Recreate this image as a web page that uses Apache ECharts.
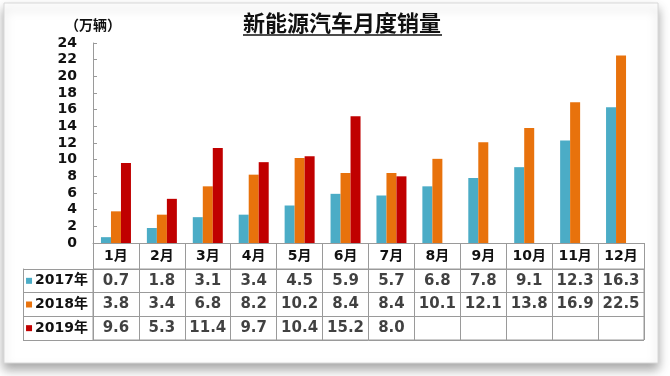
<!DOCTYPE html>
<html><head><meta charset="utf-8">
<script src="https://cdn.jsdelivr.net/npm/echarts@6/dist/echarts.min.js"></script>
<style>html,body{margin:0;padding:0;background:#fff}#c{width:670px;height:376px}</style>
</head><body><div id="c"></div>
<script>
var months = ['1月','2月','3月','4月','5月','6月','7月','8月','9月','10月','11月','12月'];
var years = ['2017年','2018年','2019年'];
var s2017 = [0.7,1.8,3.1,3.4,4.5,5.9,5.7,6.8,7.8,9.1,12.3,16.3];
var s2018 = [3.8,3.4,6.8,8.2,10.2,8.4,8.4,10.1,12.1,13.8,16.9,22.5];
var s2019 = [9.6,5.3,11.4,9.7,10.4,15.2,8.0,null,null,null,null,null];
var yTicks = {min:0, max:24, interval:2};
var colors = ['#4bacc6','#e8720c','#c00000'];
var title = '新能源汽车月度销量';
var unit = '（万辆）';

var allSeries = [s2017, s2018, s2019];
var cells = [];
allSeries.forEach(function(arr, r){
  arr.forEach(function(v, i){ if (v !== null) cells.push([i, r, v]); });
});
var F = 'DejaVu Sans, "Noto Sans CJK SC", sans-serif';
var grid = '#9a9a9a';

var chart = echarts.init(document.getElementById('c'));
chart.setOption({
  backgroundColor: '#fff',
  animation: false,
  graphic: [
    {type:'rect', z:-10, shape:{x:4,y:3,width:654,height:360},
     style:{fill:'#fff', stroke:'#d8d8d8', lineWidth:1, shadowBlur:10, shadowOffsetY:6, shadowColor:'rgba(0,0,0,0.35)'}},
    {type:'text', left:243, top:12, style:{text:title, fill:'#111', font:'bold 22px "Noto Sans CJK SC", sans-serif'}},
    {type:'line', shape:{x1:243,y1:35,x2:442,y2:35}, style:{stroke:'#111', lineWidth:1.5}}
  ],
  grid: [
    {left:93, top:43, width:551, height:200},
    {left:93, top:269, width:551, height:71, show:true, borderColor:grid, borderWidth:1, backgroundColor:'transparent'}
  ],
  xAxis: [
    {type:'category', gridIndex:0, data:months,
     axisLine:{lineStyle:{color:grid}},
     axisTick:{show:true, length:26, lineStyle:{color:grid}},
     axisLabel:{color:'#111', fontWeight:'bold', fontSize:14, fontFamily:F, margin:6}},
    {type:'category', gridIndex:1, data:months,
     axisLine:{show:false}, axisTick:{show:false}, axisLabel:{show:false},
     splitLine:{show:true, lineStyle:{color:grid}}}
  ],
  yAxis: [
    {type:'value', gridIndex:0, min:yTicks.min, max:yTicks.max, interval:yTicks.interval,
     name:unit, nameLocation:'end', nameGap:11,
     nameTextStyle:{color:'#111', fontWeight:'bold', fontSize:14, align:'center', fontFamily:'"Noto Sans CJK SC", sans-serif', padding:[0,0,0,0]},
     axisLine:{show:true, lineStyle:{color:grid}},
     axisTick:{show:true, inside:true, length:4, lineStyle:{color:grid}},
     splitLine:{show:false},
     axisLabel:{color:'#111', fontWeight:'bold', fontSize:14, fontFamily:F, margin:16}},
    {type:'category', gridIndex:1, data:years, inverse:true,
     axisLine:{show:false},
     axisTick:{show:true, length:70, lineStyle:{color:grid}},
     splitLine:{show:true, lineStyle:{color:grid}},
     axisLabel:{margin:5, formatter:function(v, idx){ return '{m' + idx + '|}{t|' + v + '}'; },
       rich:{
         m0:{width:6, height:6, backgroundColor:colors[0]},
         m1:{width:6, height:6, backgroundColor:colors[1]},
         m2:{width:6, height:6, backgroundColor:colors[2]},
         t:{color:'#111', fontWeight:'bold', fontSize:14, fontFamily:F, padding:[0,0,0,3]}
       }}},
    {type:'category', gridIndex:1, data:years, inverse:true, position:'left', offset:70,
     axisLine:{show:true, lineStyle:{color:grid}}, axisTick:{show:false}, axisLabel:{show:false}}
  ],
  series: [
    {type:'bar', name:years[0], data:s2017, barWidth:10, barGap:'0%', itemStyle:{color:colors[0]}},
    {type:'bar', name:years[1], data:s2018, barWidth:10, barGap:'0%', itemStyle:{color:colors[1]}},
    {type:'bar', name:years[2], data:s2019, barWidth:10, barGap:'0%', itemStyle:{color:colors[2]}},
    {type:'scatter', xAxisIndex:1, yAxisIndex:1, data:cells, symbolSize:1,
     itemStyle:{color:'rgba(0,0,0,0)'},
     label:{show:true, position:'inside', color:'#111', fontWeight:'bold', fontSize:15, fontFamily:F,
       formatter:function(p){ return p.value[2].toFixed(1); }}}
  ]
});
</script></body></html>
